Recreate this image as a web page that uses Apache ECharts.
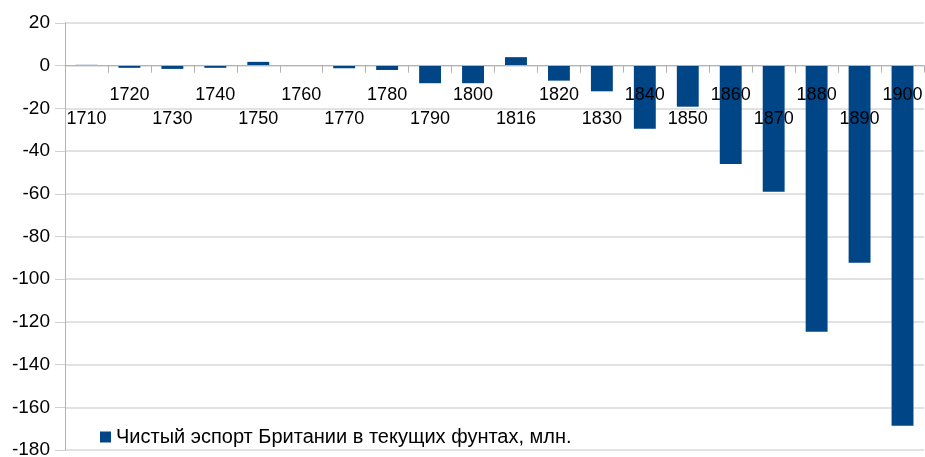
<!DOCTYPE html>
<html>
<head>
<meta charset="utf-8">
<script src="https://cdn.jsdelivr.net/npm/echarts@6/dist/echarts.min.js"></script>
<style>
  html, body { margin: 0; padding: 0; background: #fff; }
  #chart { width: 925px; height: 457px; }
</style>
</head>
<body>
<div id="chart"></div>
<script>
// годы (категории) и чистый экспорт, млн фунтов
var years = ["1710", "1720", "1730", "1740", "1750", "1760", "1770", "1780", "1790", "1800",
             "1816", "1820", "1830", "1840", "1850", "1860", "1870", "1880", "1890", "1900"];
var netExport = [0.4, -1, -1.5, -1, 1.8, 0, -1.2, -2, -8.2, -8.2,
                 4, -7, -12, -29.5, -19.2, -46, -59, -124.6, -92.3, -168.6];
var yMin = -180, yMax = 20, yStep = 20;
var seriesName = "Чистый эспорт Британии в текущих фунтах, млн.";

var GRID = { left: 65, right: 1, top: 23, bottom: 7 };
var H = 457;
// ось X стоит на нуле: сдвигаем её вверх от нижнего края сетки
var plotH = H - GRID.top - GRID.bottom;
var zeroOffset = -plotH * (0 - yMin) / (yMax - yMin);

var chart = echarts.init(document.getElementById("chart"));
var FONT = "'Liberation Sans', Arial, sans-serif";
chart.setOption({
  animation: false,
  textStyle: { fontFamily: FONT },
  grid: { left: GRID.left, right: GRID.right, top: GRID.top, bottom: GRID.bottom,
          containLabel: false, outerBoundsMode: "none" },
  legend: {
    left: 95, top: 422,
    icon: "rect", itemWidth: 11, itemHeight: 11, itemGap: 6,
    textStyle: { fontSize: 20, color: "#000", fontFamily: FONT },
    data: [seriesName]
  },
  xAxis: {
    type: "category", data: years, z: 5, offset: zeroOffset,
    axisLine: { onZero: false, lineStyle: { color: "#b3b3b3", width: 1 } },
    axisTick: { show: true, length: 7, lineStyle: { color: "#b3b3b3" } },
    axisLabel: {
      interval: 0, margin: 17, fontSize: 18, color: "#000", lineHeight: 24,
      formatter: function (v, i) { return i % 2 === 0 ? "\n" + v : v; }
    }
  },
  yAxis: {
    type: "value", min: yMin, max: yMax, interval: yStep,
    axisLine: { show: true, lineStyle: { color: "#b3b3b3" } },
    axisTick: { show: true, length: 10, lineStyle: { color: "#d0d0d0" } },
    axisLabel: { fontSize: 19, color: "#000", margin: 15 },
    splitLine: { lineStyle: { color: "#d9d9d9", width: 1.5 } }
  },
  series: [{
    name: seriesName, type: "bar", data: netExport,
    barWidth: "51%", itemStyle: { color: "#004586" }
  }]
});
</script>
</body>
</html>
